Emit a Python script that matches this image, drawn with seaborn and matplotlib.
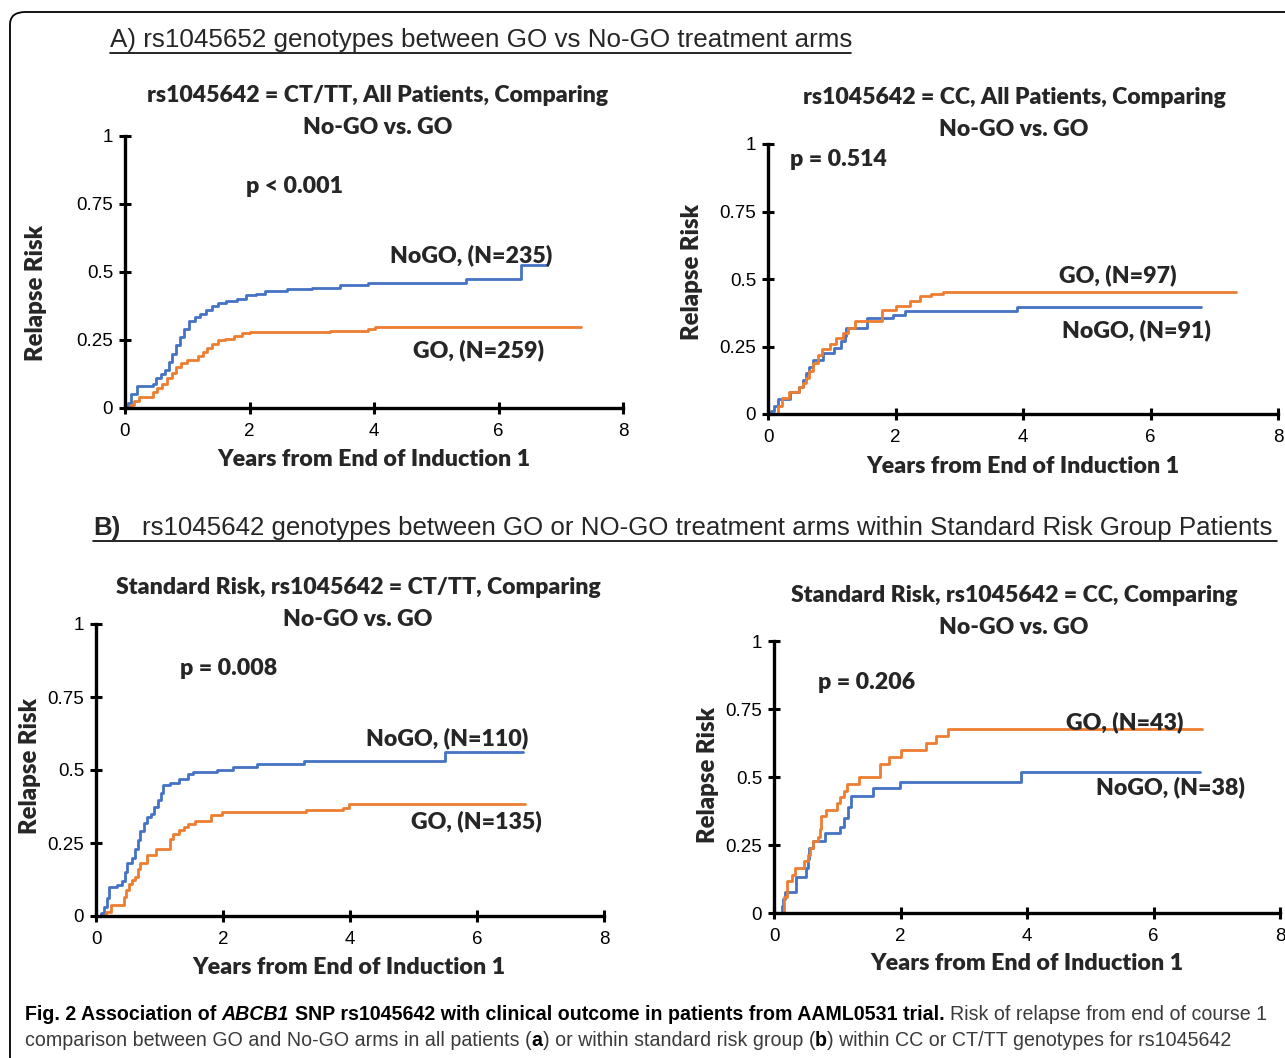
"""
Relapse risk curves, GO vs No-GO, by rs1045642 genotype
"""

import matplotlib
matplotlib.use("Agg")
import numpy as np
import pandas as pd
import matplotlib.pyplot as plt
from matplotlib import font_manager as fm
from matplotlib.patches import FancyBboxPatch
from matplotlib.lines import Line2D
import seaborn as sns

sns.set_style("ticks")

names = {f.name for f in fm.fontManager.ttflist}
calibri = "Lato" if "Lato" in names else "DejaVu Sans"
narrow = "Liberation Sans Narrow" if "Liberation Sans Narrow" in names else "Liberation Sans"
arial = "Liberation Sans"
plt.rcParams["font.family"] = [calibri, "DejaVu Sans"]
BOLD = "heavy"

BLUE = "#4472C4"
ORANGE = "#ED7D31"

# data
xticks = [0, 2, 4, 6, 8]
xtick_labels = ["0", "2", "4", "6", "8"]
yticks = [0, 0.25, 0.5, 0.75, 1]
ytick_labels = ["0", "0.25", "0.5", "0.75", "1"]

# A) all patients, CT/TT
a1_nogo_t = [0, 0.05, 0.1, 0.2, 0.45, 0.5, 0.58, 0.65, 0.7, 0.76, 0.82, 0.88, 0.95, 1.03, 1.12,
             1.2, 1.3, 1.4, 1.5, 1.62, 1.8, 1.95, 2.1, 2.25, 2.6, 3.0, 3.45, 3.9, 5.48, 6.36, 6.78]
a1_nogo_r = [0, 0.02, 0.05, 0.08, 0.09, 0.11, 0.125, 0.14, 0.17, 0.2, 0.23, 0.26, 0.29, 0.32, 0.335,
             0.345, 0.36, 0.375, 0.385, 0.395, 0.40, 0.415, 0.42, 0.43, 0.437, 0.442, 0.452, 0.458,
             0.474, 0.526, 0.526]
a1_go_t = [0, 0.08, 0.15, 0.23, 0.45, 0.52, 0.6, 0.68, 0.75, 0.82, 0.9, 1.0, 1.18, 1.25, 1.32, 1.4,
           1.5, 1.6, 1.75, 1.88, 2.0, 3.3, 3.9, 4.02, 7.33]
a1_go_r = [0, 0.01, 0.025, 0.04, 0.06, 0.075, 0.09, 0.11, 0.13, 0.15, 0.165, 0.178, 0.19, 0.205, 0.22,
           0.235, 0.25, 0.255, 0.265, 0.274, 0.28, 0.284, 0.29, 0.296, 0.296]

# A) all patients, CC
a2_go_t = [0, 0.15, 0.22, 0.33, 0.49, 0.55, 0.6, 0.65, 0.71, 0.78, 0.84, 0.98, 1.06, 1.17, 1.25, 1.36,
           1.79, 2.01, 2.23, 2.39, 2.55, 2.74, 7.34]
a2_go_r = [0, 0.03, 0.06, 0.08, 0.10, 0.115, 0.135, 0.16, 0.19, 0.22, 0.24, 0.26, 0.28, 0.3, 0.32, 0.345,
           0.386, 0.40, 0.417, 0.436, 0.445, 0.452, 0.452]
a2_nogo_t = [0, 0.05, 0.1, 0.16, 0.35, 0.49, 0.55, 0.6, 0.65, 0.71, 0.87, 1.03, 1.14, 1.2, 1.22, 1.55,
             1.96, 2.15, 3.91, 6.79]
a2_nogo_r = [0, 0.01, 0.03, 0.055, 0.08, 0.1, 0.125, 0.153, 0.175, 0.2, 0.227, 0.245, 0.27, 0.29, 0.32,
             0.356, 0.368, 0.38, 0.395, 0.395]

# B) standard risk, CT/TT
b1_nogo_t = [0, 0.08, 0.13, 0.17, 0.21, 0.33, 0.41, 0.45, 0.49, 0.56, 0.61, 0.66, 0.7, 0.75, 0.8, 0.86,
             0.92, 0.97, 1.02, 1.06, 1.17, 1.31, 1.45, 1.53, 1.9, 2.15, 2.54, 3.28, 5.49, 6.73]
b1_nogo_r = [0, 0.01, 0.03, 0.06, 0.10, 0.105, 0.12, 0.15, 0.18, 0.2, 0.23, 0.26, 0.29, 0.32, 0.34, 0.35,
             0.375, 0.396, 0.42, 0.447, 0.456, 0.47, 0.485, 0.493, 0.5, 0.51, 0.519, 0.53, 0.562, 0.562]
b1_go_t = [0, 0.12, 0.16, 0.24, 0.44, 0.48, 0.52, 0.57, 0.61, 0.66, 0.69, 0.8, 0.94, 1.17, 1.22, 1.31,
           1.38, 1.45, 1.56, 1.81, 1.98, 3.3, 3.89, 3.98, 6.76]
b1_go_r = [0, 0.005, 0.015, 0.036, 0.065, 0.09, 0.11, 0.125, 0.133, 0.16, 0.18, 0.208, 0.23, 0.265, 0.28,
           0.294, 0.305, 0.316, 0.327, 0.345, 0.356, 0.362, 0.37, 0.385, 0.385]

# B) standard risk, CC
b2_go_t = [0, 0.16, 0.2, 0.29, 0.33, 0.48, 0.53, 0.57, 0.61, 0.7, 0.73, 0.75, 0.83, 1.0, 1.05, 1.11,
           1.16, 1.35, 1.68, 1.82, 2.01, 2.4, 2.56, 2.75, 6.76]
b2_go_r = [0, 0.06, 0.116, 0.14, 0.165, 0.19, 0.214, 0.24, 0.263, 0.28, 0.31, 0.355, 0.38, 0.404, 0.428,
           0.45, 0.475, 0.5, 0.548, 0.575, 0.6, 0.624, 0.649, 0.676, 0.676]
b2_nogo_t = [0, 0.12, 0.15, 0.18, 0.34, 0.5, 0.53, 0.56, 0.61, 0.8, 1.05, 1.11, 1.17, 1.22, 1.57, 1.99,
             3.91, 6.73]
b2_nogo_r = [0, 0.024, 0.05, 0.076, 0.132, 0.165, 0.2, 0.24, 0.263, 0.294, 0.318, 0.35, 0.39, 0.43, 0.46,
             0.483, 0.52, 0.52]

W, H = 1285, 1058
fig = plt.figure(figsize=(W / 100, H / 100), dpi=100)
R = fig.canvas.get_renderer()


def fy(y):
    return 1 - y / H


def rect(x0, y0, x1, y1):
    # pixel box -> figure fraction (x0,y0 = data origin, x1,y1 = (8, 1))
    return [x0 / W, 1 - y0 / H, (x1 - x0) / W, (y0 - y1) / H]


def fit(t, target, use_height=False):
    bb = t.get_window_extent(R)
    cur = bb.height if use_height else bb.width
    t.set_fontsize(t.get_fontsize() * target / cur)
    return t.get_fontsize()


def width(s, **kw):
    t = fig.text(0, 0, s, **kw)
    w = t.get_window_extent(R).width
    t.remove()
    return w


def run(pieces, x, y, **base):
    # draw a line of mixed-style text pieces, left to right, in pixel coords
    arts = []
    for s, extra in pieces:
        kw = {**base, **extra}
        sp = width("n n", **kw) - width("nn", **kw)
        x += (len(s) - len(s.lstrip(" "))) * sp
        t = fig.text(x / W, fy(y), s.strip(" "), va="center", ha="left", **kw)
        arts.append(t)
        x += t.get_window_extent(R).width + (len(s) - len(s.rstrip(" "))) * sp
    return x, arts


panels = [
    dict(rect=rect(125, 408, 623, 136),
         series=[("NoGO", a1_nogo_t, a1_nogo_r), ("GO", a1_go_t, a1_go_r)],
         title=["rs1045642 = CT/TT, All Patients, Comparing", "No-GO vs. GO"], tx=378, ty=(96, 128),
         notes=[("p < 0.001", 1.94, 0.816), ("NoGO, (N=235)", 4.26, 0.5625), ("GO, (N=259)", 4.63, 0.213)],
         xl=(0.5, -0.1875), yl=(-0.179, 0.423)),
    dict(rect=rect(768, 414, 1278, 144),
         series=[("NoGO", a2_nogo_t, a2_nogo_r), ("GO", a2_go_t, a2_go_r)],
         title=["rs1045642 = CC, All Patients, Comparing", "No-GO vs. GO"], tx=1014, ty=(98, 130),
         notes=[("p = 0.514", 0.345, 0.944), ("GO, (N=97)", 4.565, 0.515), ("NoGO, (N=91)", 4.61, 0.311)],
         xl=(0.5, -0.193), yl=(-0.149, 0.526)),
    dict(rect=rect(96, 916, 604, 624),
         series=[("NoGO", b1_nogo_t, b1_nogo_r), ("GO", b1_go_t, b1_go_r)],
         title=["Standard Risk, rs1045642 = CT/TT, Comparing", "No-GO vs. GO"], tx=358, ty=(587, 619),
         notes=[("p = 0.008", 1.32, 0.846), ("NoGO, (N=110)", 4.25, 0.61), ("GO, (N=135)", 4.96, 0.325)],
         xl=(0.498, -0.175), yl=(-0.13, 0.514)),
    dict(rect=rect(774, 913, 1280, 641),
         series=[("NoGO", b2_nogo_t, b2_nogo_r), ("GO", b2_go_t, b2_go_r)],
         title=["Standard Risk, rs1045642 = CC, Comparing", "No-GO vs. GO"], tx=1014, ty=(596, 628),
         notes=[("p = 0.206", 0.696, 0.846), ("GO, (N=43)", 4.62, 0.70), ("NoGO, (N=38)", 5.09, 0.463)],
         xl=(0.5, -0.1875), yl=(-0.13, 0.507)),
]

title_size = None
note_size = None
lab_size = None
ylab_size = None

for p in panels:
    ax = fig.add_axes(p["rect"])
    df = pd.concat([pd.DataFrame({"t": t, "risk": r, "arm": arm}) for arm, t, r in p["series"]])
    sns.lineplot(data=df, x="t", y="risk", hue="arm", palette={"NoGO": BLUE, "GO": ORANGE},
                 estimator=None, errorbar=None, drawstyle="steps-post", linewidth=2.0,
                 legend=False, ax=ax)
    ax.set_xlim(0, 8)
    ax.set_ylim(0, 1)
    ax.set_xticks(xticks)
    ax.set_xticklabels(xtick_labels)
    ax.set_yticks(yticks)
    ax.set_yticklabels(ytick_labels)
    for lab in ax.get_xticklabels() + ax.get_yticklabels():
        lab.set_fontfamily(arial)
    ax.tick_params(direction="inout", length=9, width=2.2, labelsize=13.5, pad=4, colors="black")
    ax.tick_params(axis="x", pad=6)
    sns.despine(ax=ax)
    for s in ("left", "bottom"):
        ax.spines[s].set_linewidth(2.4)
        ax.spines[s].set_color("black")
        ax.spines[s].set_zorder(5)
    ax.patch.set_alpha(0)

    ax.set_xlabel("Years from End of Induction 1", fontweight=BOLD, fontsize=15)
    ax.set_ylabel("Relapse Risk", fontweight=BOLD, fontsize=15)
    ax.xaxis.set_label_coords(*p["xl"])
    ax.yaxis.set_label_coords(*p["yl"])
    ax.xaxis.label.set_verticalalignment("center")
    ax.yaxis.label.set_verticalalignment("center")
    if lab_size is None:
        lab_size = fit(ax.xaxis.label, 314)
        ylab_size = fit(ax.yaxis.label, 137, use_height=True)
    ax.xaxis.label.set_fontsize(lab_size)
    ax.yaxis.label.set_fontsize(ylab_size)

    notes = []
    for txt, x, y in p["notes"]:
        notes.append(ax.text(x, y, txt, fontweight=BOLD, fontsize=16, ha="left", va="center"))
    if note_size is None:
        note_size = fit(notes[1], 163)
    for t in notes:
        t.set_fontsize(note_size)

    l1 = fig.text(p["tx"] / W, fy(p["ty"][0]), p["title"][0], ha="center", va="center",
                  fontweight=BOLD, fontsize=16)
    if title_size is None:
        title_size = fit(l1, 461)
    l1.set_fontsize(title_size)
    fig.text(p["tx"] / W, fy(p["ty"][1]), p["title"][1], ha="center", va="center",
             fontweight=BOLD, fontsize=title_size)

# section headers (underlined)
hA = fig.text(110 / W, fy(40), "A) rs1045652 genotypes between GO vs No-GO treatment arms",
              ha="left", va="center", family=narrow, fontsize=18)
hsize = fit(hA, 741)
fig.add_artist(Line2D([110 / W, 851 / W], [fy(53), fy(53)], color="black", lw=1.2))

hb_text = "rs1045642 genotypes between GO or NO-GO treatment arms within Standard Risk Group Patients"
probe = fig.text(0, 0, hb_text, family=narrow, fontsize=hsize)
bsize = fit(probe, 1135)
probe.remove()
run([("B)", {"fontweight": "bold"}), ("   " + hb_text, {})], 93, 528, family=narrow, fontsize=bsize)
fig.add_artist(Line2D([93 / W, 1277 / W], [fy(541), fy(541)], color="black", lw=1.2))

# caption
cap1 = [("Fig. 2 Association of ", {"fontweight": "bold", "color": "black"}),
        ("ABCB1", {"fontweight": "bold", "fontstyle": "italic", "color": "black"}),
        (" SNP rs1045642 with clinical outcome in patients from AAML0531 trial.",
         {"fontweight": "bold", "color": "black"}),
        (" Risk of relapse from end of course 1", {"color": "#3a3a3a"})]
cap2 = [("comparison between GO and No-GO arms in all patients (", {"color": "#3a3a3a"}),
        ("a", {"fontweight": "bold", "color": "black"}),
        (") or within standard risk group (", {"color": "#3a3a3a"}),
        ("b", {"fontweight": "bold", "color": "black"}),
        (") within CC or CT/TT genotypes for rs1045642", {"color": "#3a3a3a"})]
end, arts = run(cap1, 25, 1014, family=narrow, fontsize=13)
csize = 13 * (1262 - 25) / (end - 25)
for a in arts:
    a.remove()
run(cap1, 25, 1014, family=narrow, fontsize=csize)
run(cap2, 25, 1040, family=narrow, fontsize=csize)

# frame
fig.add_artist(FancyBboxPatch((10 / W, -0.1), 1.2, fy(12) + 0.1,
                              boxstyle="round,pad=0,rounding_size=0.012",
                              transform=fig.transFigure, fill=False, ec="black", lw=1.3))

fig.savefig("out.png", dpi=100)
